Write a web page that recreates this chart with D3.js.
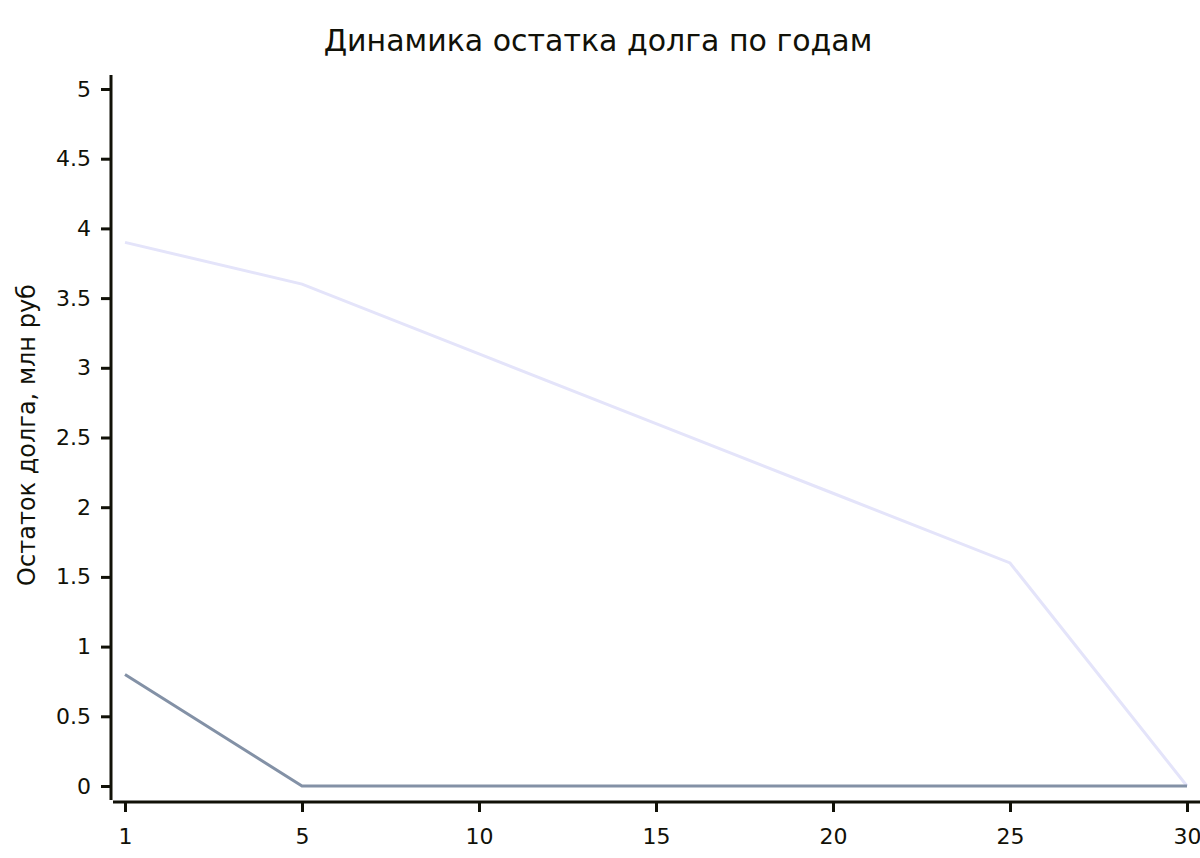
<!DOCTYPE html>
<html>
<head>
<meta charset="utf-8">
<script src="https://cdn.jsdelivr.net/npm/d3@7"></script>
<style>
  body { margin: 0; background: #fff; }
  text { font-family: "DejaVu Sans", sans-serif; fill: #111108; }
  .axis path, .axis line { stroke: #111108; stroke-width: 3; }
  .line { fill: none; stroke-width: 3; }
</style>
</head>
<body>
<svg width="1200" height="858"></svg>
<script>
// chart data
var years = ["1", "5", "10", "15", "20", "25", "30"];
var debtA = [3.9, 3.6, 3.1, 2.6, 2.1, 1.6, 0];   // light line
var debtB = [0.8, 0, 0, 0, 0, 0, 0];            // dark line
var yTicks = [0, 0.5, 1, 1.5, 2, 2.5, 3, 3.5, 4, 4.5, 5];
var title = "Динамика остатка долга по годам";
var yTitle = "Остаток долга, млн руб";

var svg = d3.select("svg");

var x = d3.scalePoint().domain(years).range([125, 1187]);
var y = d3.scaleLinear().domain([0, 5]).range([786, 89]);

// axes
var yAxis = svg.append("g")
    .attr("class", "axis")
    .attr("transform", "translate(111,0)")
    .call(d3.axisLeft(y).tickValues(yTicks).tickSize(10).tickPadding(10)
      .tickFormat(function(d) { return d; }));
yAxis.select(".domain").attr("d", "M0,75V800");
yAxis.selectAll("text").style("font-size", "22px");

var xAxis = svg.append("g")
    .attr("class", "axis")
    .attr("transform", "translate(0,802)")
    .call(d3.axisBottom(x).tickSize(10).tickPadding(16));
xAxis.select(".domain").attr("d", "M113,0H1200");
xAxis.selectAll("text").style("font-size", "22px");

// lines
var line = d3.line()
    .x(function(d, i) { return x(years[i]); })
    .y(function(d) { return y(d); });

svg.append("path")
    .datum(debtA)
    .attr("class", "line")
    .attr("stroke", "#e4e4fa")
    .attr("d", line);

svg.append("path")
    .datum(debtB)
    .attr("class", "line")
    .attr("stroke", "#8391a6")
    .attr("d", line);

// titles
svg.append("text")
    .attr("x", 598)
    .attr("y", 51)
    .attr("text-anchor", "middle")
    .style("font-size", "30px")
    .text(title);

svg.append("text")
    .attr("transform", "translate(35,435) rotate(-90)")
    .attr("text-anchor", "middle")
    .style("font-size", "24px")
    .text(yTitle);
</script>
</body>
</html>
